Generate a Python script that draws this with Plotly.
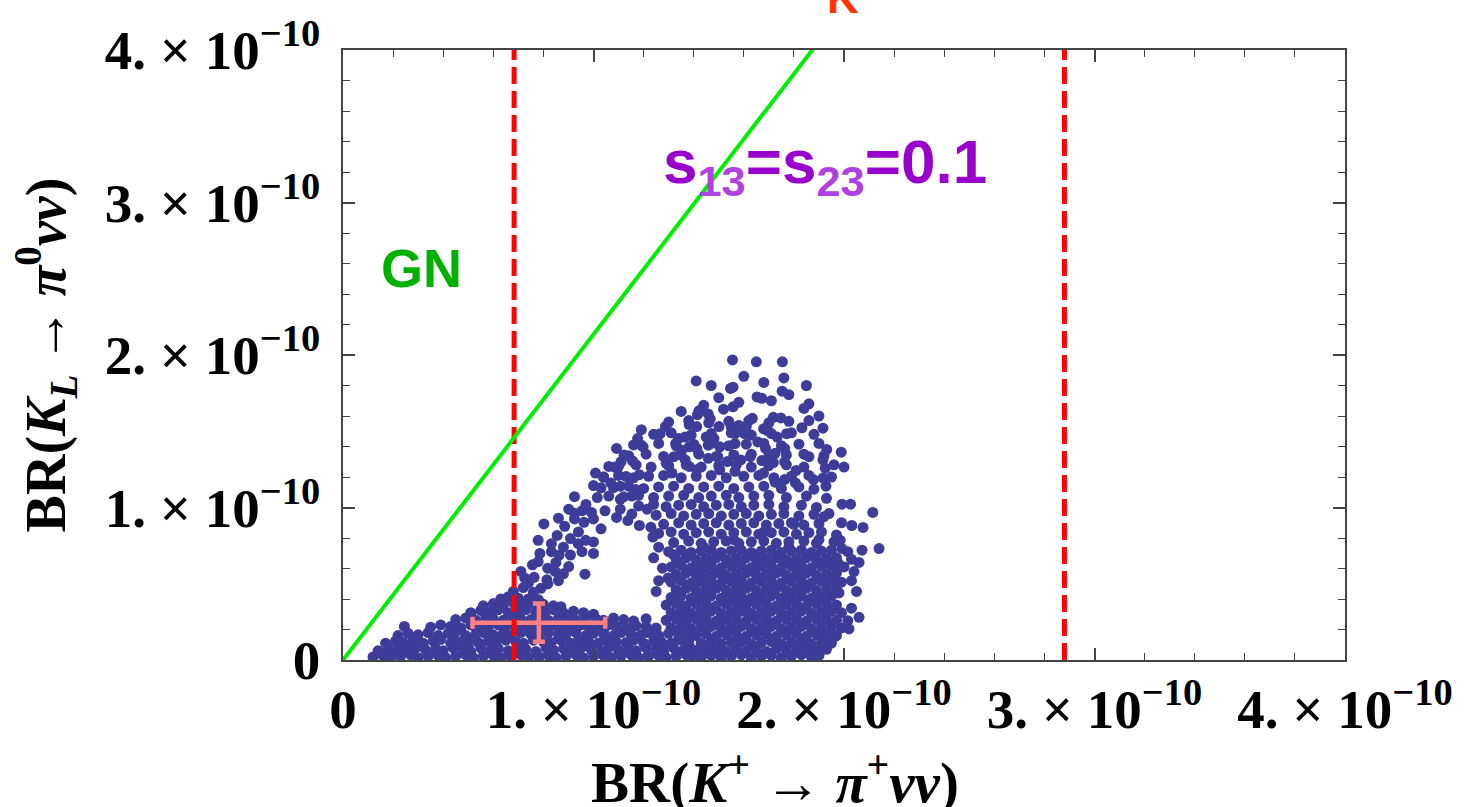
import plotly.graph_objects as go

S = 1e-12  # all values below are in units of 1e-12

# ---- scatter points (BR(K+ -> pi+ nu nu), BR(KL -> pi0 nu nu)) ----
band_pts = [
    (12,2),(16,3),(19,1.5),(23,2.5),(27,3.5),(30,1.5),(34,2.5),(38,3),(41,1.5),(45,2.5),(49,3.5),(52,1.5),
    (56,2.5),(60,3),(63,1.5),(67,2.5),(71,3.5),(74,1.5),(78,2.5),(82,3),(85,1.5),(89,2.5),(93,3.5),(96,1.5),
    (100,2.5),(104,3),(107,1.5),(111,2.5),(115,3.5),(118,1.5),(122,2.5),(126,3),(129,1.5),(133,2.5),(137,3.5),(140,1.5),
    (14,6),(18,8),(22,7),(25,5.5),(29,8),(33,6.5),(37,7.5),(40,6),(44,8),(48,7),(51,5.5),(55,8),(59,6.5),(62,7.5),
    (66,6),(70,8),(73,7),(77,5.5),(81,8),(84,6.5),(88,7.5),(92,6),(95,8),(99,7),(103,5.5),(106,8),(110,6.5),
    (114,7.5),(117,6),(121,8),(125,7),(128,5.5),(132,8),(136,6.5),(139,7.5),
    (17,11),(21,12.5),(24,11.5),(28,13),(32,11),(36,12.5),(39,13.5),(43,11),(47,12),(50,13),(54,11.5),(58,12.5),
    (61,11),(65,13),(69,12),(72,11),(76,13),(80,12),(83,11.5),(87,13),(91,11),(94,12.5),(98,12),(102,11),
    (105,13),(109,12),(113,11.5),(116,13),(120,11),(124,12.5),(127,12),(131,11),(135,13),(138,12),
    (22,16),(26,17.5),(30,16.5),(34,18),(38,16),(42,17.5),(45,18.5),(49,16),(53,17),(56,18),(60,16.5),(64,17.5),
    (67,16),(71,18),(75,17),(78,16),(82,18),(86,17),(89,16.5),(93,18),(97,16),(100,17.5),(104,17),(108,16),
    (111,18),(115,17),(119,16.5),(122,18),(126,16),(130,17.5),(134,17),(138,16),
    (24.5,22),(35,21.5),(39,23),(43,22),(47,21),(51,23),(54,22),(58,21.5),(62,23),(65,22),(69,21),(73,23),
    (76,22),(80,21.5),(84,23),(87,22),(91,21),(95,23),(98,22),(102,21.5),(106,23),(109,22),(113,21),(117,22.5),
    (121,22),(125,21),
    (45,26.5),(49,27.5),(53,26),(57,28),(60,27),(64,26),(68,28),(71,27),(75,26.5),(79,28),(82,26),(86,27.5),
    (90,27),(93,26),(97,28),(101,27),(104,26),(108,27.5),(112,26.5),(116,25.5),(121,27),
    (51,31),(55,32.5),(59,31.5),(62,33),(66,31),(70,32.5),(73,33),(77,31.5),(81,32),(84,33),(88,31),(92,32),
    (96,31),(100,30),
    (56,35.5),(60,37),(64,36),(68,37.5),(72,36),(76,37),(80,36.5),(84,35.5),(87,35),
    (63,40),(66,41.5),(70,40.5),(74,40),(78,39.5),
    (20,5),(32,9),(44,14),(56,19),(68,24),(80,29),(92,24),(104,19),(116,14),(128,9),
    (26,9),(38,4),(50,9),(62,14),(74,19),(86,14),(98,9),(110,4),(122,19),(134,14),
]

arm_pts = [
    (71,58.1),(72.5,53.8),(76.3,54.2),(81.4,52.7),(81.7,49.9),(75.6,62.4),(77.9,64.5),(81.7,60.2),(84.7,58.1),
    (90.1,61.3),(96.6,56.3),(68,45),(72,47.5),(76,44.5),(79,47),(74,50.5),(86,52),(88,56.5),
    (78.6,69.9),(83.2,71),(86.3,68.8),(90.8,68.8),(95.4,71),(100,69.9),
    (77.9,78.5),(83.2,76.3),(85.5,81.7),(90.8,79.6),(93.9,76.3),(96.9,78.5),(100,77.4),
    (80.2,89.2),(88.5,87.7),(92.4,92.5),(96.2,90.3),(100,92.5),(103,86),(109.2,93.5),(113.7,91.4),(118.3,88.2),(122.9,87.1),
    (90.1,98.9),(92.4,96.3),(95.4,97.8),(99.2,96.8),(104.6,97.8),(110.7,98.9),(115.3,95.7),(121.4,98.9),
    (92.4,107.1),(101.5,106.5),(106.1,107.5),(110.7,105.4),(115.3,107.5),
    (100,114.4),(103,112.9),(106.9,116.1),(110.7,114),(116.8,111.8),
    (100.8,122.6),(113,120.4),(118.3,121.5),
    (106.1,126.9),(108.4,126.5),(115.6,130.5),
    (109.2,138.7),(112.2,134.4),(119.8,139.8),
    (117.6,145.2),(119.1,151),(126.6,148.4),(128.7,153.1),
    (123.7,80.6),(127.5,60.2),(129.8,53.8),(125,45),(126,52),(124,67),(126,74),
    (85,64),(88,74),(94,84),(86,93),(97,102),(104,120),(111,130),(116,141),
]

arch_read_pts = [
    (154.7,178.1),(155.7,178.9),(165.3,172.5),(167.2,171.6),(175.3,176.3),(142.1,163.4),(141.5,160.9),
    (151.9,164.5),(155.7,166),(145.8,161.3),(146.6,158.1),(163.4,158.5),(171.8,159.1),(174.8,158.7),
    (138.2,154.4),(141.2,153.1),(150.1,153.1),(155,152.7),(158,153.8),(161,153.1),(167.9,151.6),(169.5,150.5),
    (183.2,152.3),(191.6,152),
    (133.9,145.2),(136.6,146.2),(145,146.2),(148.1,145.2),(156.5,148.4),(160.3,148.4),(173.3,146.2),(177.1,148.4),
    (132.8,141.9),(135.1,137.6),(138.2,139.8),(141.2,138.7),(145.8,140.9),(150.4,139.8),(156.5,141.9),(165.6,143),
    (168.7,138.7),(172.5,135.5),(176.3,138.7),(186,133.3),(193.1,138.1),(198.9,136.3),(191.6,131.2),
    (129,129),(132.1,133.3),(136.6,131.2),(145.8,132.3),(149.6,133.3),(153.4,130.1),(158.8,131.2),(162.6,133.3),
    (167.2,130.8),(171.8,129.5),(176.3,129.9),(180.9,124.3),(192.5,125.8),(200,126.5),
    (131.3,122.6),(138.2,126.9),(141.2,124.7),(150.4,124.7),(156.5,123.7),(167.9,122.6),(172.5,116.6),
    (176.3,118.3),(180.6,116.1),(187.8,118.3),(191.6,119.4),(192.8,114),
    (199.2,102.2),(202.6,102.2),(211.5,96.8),(203.1,88.2),(207.6,86.9),(198.5,78.5),(199.2,73.1),
    (201.5,71),(207.2,72),(214,73.1),(197.7,63.4),
    (141,183),(147,180),(155.5,196.8),(165,195.5),(175.4,195.5),(160,186),(168,182),(176,185),(185,180),
    (186,168),(190,160),(150,172),(158,169),(171,170),(178,174),(184,165),(135,163),(144,167),
]

arch_rows = [
    (131,61),(135,62),(139,60.5),(143,61.5),(147,62),(151,60.5),(155,61.5),(159,62),(163,60.5),(167,61.5),
    (171,62),(175,60.5),(179,61.5),(183,62),(187,60.5),(191,61.5),(195,62),(200,61),
    (133,66),(137,67),(141,65.5),(145,66.5),(149,67),(153,65.5),(157,66.5),(161,67),(165,65.5),(169,66.5),
    (173,67),(177,65.5),(181,66.5),(185,67),(189,65.5),(193,66.5),(197,67),(203,66),
    (130,71),(135,72),(139,70.5),(143,71.5),(147,72),(151,70.5),(155,71.5),(159,72),(163,70.5),(167,71.5),
    (171,72),(175,70.5),(179,71.5),(183,72),(187,70.5),(191,71.5),(195,72),
    (132,77),(138,78),(143,76.5),(148,77.5),(153,78),(158,76.5),(163,77.5),(168,78),(173,76.5),(178,77.5),
    (184,78),(189,76.5),(196,77.5),
    (126,83),(131,84),(136,82.5),(141,83.5),(146,84),(151,82.5),(156,83.5),(161,84),(166,82.5),(171,83.5),
    (176,84),(181,82.5),(186,83.5),(191,84),(197,82),
    (128,89),(134,90),(139,88.5),(144,89.5),(149,90),(154,88.5),(159,89.5),(164,90),(169,88.5),(174,89.5),
    (179,90),(184,88.5),(190,89.5),(199,90),
    (125,95),(131,96),(136,94.5),(141,95.5),(146,96),(151,94.5),(156,95.5),(161,96),(166,94.5),(171,95.5),
    (176,96),(182,94.5),(188,95.5),(194,96),
    (118,101),(124,102),(129,100.5),(134,101.5),(139,102),(144,100.5),(149,101.5),(154,102),(159,100.5),
    (164,101.5),(170,102),(176,100.5),(183,101.5),(189,100),
    (112,107),(118,108),(124,106.5),(130,107.5),(136,108),(142,106.5),(147,107.5),(153,108),(158,106.5),
    (164,107.5),(170,108),(177,106.5),(185,107.5),(193,106),
    (108,113),(114,114),(120,112.5),(126,113.5),(132,114),(138,112.5),(144,113.5),(150,114),(156,112.5),
    (162,113.5),(168,114),(175,112.5),(182,113.5),(188,112),
    (104,120),(110,121),(116,119.5),(122,120.5),(128,121),(135,119.5),(141,120.5),(147,121),(153,119.5),
    (160,120.5),(166,121),(172,119.5),(179,120.5),(186,121),(195,120),
    (110,127),(117,128),(123,126.5),(130,127.5),(137,128),(143,126.5),(150,127.5),(157,128),(163,126.5),
    (170,127.5),(177,128),(184,126.5),(196,128),
    (114,134),(121,135),(128,133.5),(135,134.5),(142,135),(149,133.5),(156,134.5),(163,135),(170,133.5),
    (177,134.5),(184,135),(192,134),
    (119,141),(126,142),(133,140.5),(140,141.5),(147,142),(154,140.5),(161,141.5),(168,142),(175,140.5),
    (182,141.5),(190,142),
    (124,148),(131,149),(139,147.5),(147,148.5),(155,149),(163,147.5),(171,148.5),(179,149),(188,148),
    (130,156),(138,157),(146,155.5),(154,156.5),(162,157),(170,155.5),(178,156.5),(186,157),
]

core_pts = [
    (143,2),(147,3),(151,1.5),(155,2.5),(159,3.5),(163,1.5),(167,2.5),(171,3),(175,1.5),(179,2.5),(183,3.5),(187,2),(190,3),
    (141,6),(145,7.5),(149,6.5),(153,5.5),(157,7.5),(161,6),(165,7),(169,5.5),(173,7.5),(177,6.5),(181,6),(185,7.5),(189,6),(193,7),
    (143,11),(147,12),(151,10.5),(155,11.5),(159,12),(163,10.5),(167,11.5),(171,12),(175,10.5),(179,11.5),(183,12),(187,10.5),(191,11.5),(195,11),
    (141,16),(145,17),(149,15.5),(153,16.5),(157,17),(161,15.5),(165,16.5),(169,17),(173,15.5),(177,16.5),(181,17),(185,15.5),(189,16.5),(193,17),(197,16),
    (131,21),(135,22),(139,20.5),(143,21.5),(147,22),(151,20.5),(155,21.5),(159,22),(163,20.5),(167,21.5),(171,22),(175,20.5),(179,21.5),(183,22),(187,20.5),(191,21.5),(195,22),(199,21),
    (129,26),(133,27),(137,25.5),(141,26.5),(145,27),(149,25.5),(153,26.5),(157,27),(161,25.5),(165,26.5),(169,27),(173,25.5),(177,26.5),(181,27),(185,25.5),(189,26.5),(193,27),(197,26),
    (131,31),(135,32),(139,30.5),(143,31.5),(147,32),(151,30.5),(155,31.5),(159,32),(163,30.5),(167,31.5),(171,32),(175,30.5),(179,31.5),(183,32),(187,30.5),(191,31.5),(195,32),(199,31),
    (129,36),(133,37),(137,35.5),(141,36.5),(145,37),(149,35.5),(153,36.5),(157,37),(161,35.5),(165,36.5),(169,37),(173,35.5),(177,36.5),(181,37),(185,35.5),(189,36.5),(193,37),(197,36),
    (131,41),(135,42),(139,40.5),(143,41.5),(147,42),(151,40.5),(155,41.5),(159,42),(163,40.5),(167,41.5),(171,42),(175,40.5),(179,41.5),(183,42),(187,40.5),(191,41.5),(195,42),
    (133,46),(137,47),(141,45.5),(145,46.5),(149,47),(153,45.5),(157,46.5),(161,47),(165,45.5),(169,46.5),(173,47),(177,45.5),(181,46.5),(185,47),(189,45.5),(193,46.5),(197,47),
    (131,51),(135,52),(139,50.5),(143,51.5),(147,52),(151,50.5),(155,51.5),(159,52),(163,50.5),(167,51.5),(171,52),(175,50.5),(179,51.5),(183,52),(187,50.5),(191,51.5),(195,52),(199,51),
    (133,56),(137,57),(141,55.5),(145,56.5),(149,57),(153,55.5),(157,56.5),(161,57),(165,55.5),(169,56.5),(173,57),(177,55.5),(181,56.5),(185,57),(189,55.5),(193,56.5),(197,57),
    (134,4.5),(146,9),(158,14),(170,4.5),(182,9),(194,14),(138,19),(150,24),(162,29),(174,34),(186,39),(198,44),
    (140,49),(152,54),(164,59),(176,64),(188,69),(134,39),(146,44),(158,49),(170,54),(182,59),(194,64),
    (136,29),(148,34),(160,39),(172,44),(184,49),(196,54),(142,59),(154,64),(166,69),(178,74),(190,79),
    (132,69),(144,74),(156,79),(168,84),(180,89),(192,94),
]

edge_pts = [
    (206,64),(204,58),(203,34),(206,28),(201.5,25.8),(202,20.4),(196.5,15.5),(192,17),(191.6,8.6),(188.5,4.3),
    (205,45),(203,52),
]

# ---- error cross (central value and errors) ----
cross_x = [78.2]
cross_x_err = [26.5]
cross_y = [24.5]
cross_y_err = [12.6]

# ---- experimental range on BR(K+) (vertical dashed lines) ----
bound_x = [68.3, 288.0]

# ---- Grossman-Nir bound line ----
gn_x = [0, 200]
gn_y = [0, 427]

# ---- ticks ----
tick_vals = [0, 100, 200, 300, 400]
tick_text = ["0", "1. × 10<sup>−10</sup>", "2. × 10<sup>−10</sup>",
             "3. × 10<sup>−10</sup>", "4. × 10<sup>−10</sup>"]

all_pts = band_pts + arm_pts + arch_read_pts + arch_rows + core_pts + edge_pts
sx = [p[0] * S for p in all_pts]
sy = [p[1] * S for p in all_pts]

SERIF = "Liberation Serif"
FRAME = "#444444"
PINK = "#ff8080"

fig = go.Figure()
fig.add_trace(go.Scatter(
    x=sx, y=sy, mode="markers",
    marker=dict(size=11, color="#3d3d99", line=dict(width=0)),
    hoverinfo="skip", showlegend=False))
fig.add_trace(go.Scatter(
    x=[v * S for v in cross_x], y=[v * S for v in cross_y], mode="markers",
    marker=dict(size=1, color=PINK),
    error_x=dict(type="data", array=[v * S for v in cross_x_err], color=PINK, thickness=4.5, width=6),
    error_y=dict(type="data", array=[v * S for v in cross_y_err], color=PINK, thickness=4.5, width=6),
    showlegend=False, hoverinfo="skip"))
for bx in bound_x:
    fig.add_trace(go.Scatter(
        x=[bx * S, bx * S], y=[0, 400 * S], mode="lines",
        line=dict(color="#ff0000", width=5, dash="17px,7px"),
        showlegend=False, hoverinfo="skip"))
fig.add_trace(go.Scatter(
    x=[v * S for v in gn_x], y=[v * S for v in gn_y], mode="lines",
    line=dict(color="#00ee00", width=4), showlegend=False, hoverinfo="skip"))

axis_common = dict(
    tickmode="array", tickvals=[v * S for v in tick_vals], ticktext=tick_text,
    ticks="inside", ticklen=12, tickwidth=1.5, tickcolor=FRAME,
    showline=True, linecolor=FRAME, linewidth=1.5, mirror="ticks",
    showgrid=False, zeroline=False,
    minor=dict(tickmode="linear", tick0=0, dtick=20 * S, ticks="inside", ticklen=7,
               tickcolor=FRAME, tickwidth=1.2, showgrid=False),
    tickfont=dict(family=SERIF, size=55, color="black", weight="bold"),
    range=[0, 400 * S],
)

fig.update_layout(
    width=1468, height=807, autosize=False,
    margin=dict(l=343, r=123, t=40, b=147),
    paper_bgcolor="white", plot_bgcolor="white",
    xaxis=dict(**axis_common),
    yaxis=dict(**axis_common, ticklabelstandoff=10),
    annotations=[
        dict(text="BR(<i>K</i><sup>+</sup> → <i>π</i><sup>+</sup><i>νν</i>)", xref="paper", yref="paper",
             x=(775 - 343) / 1002, y=-0.1935, xanchor="center", yanchor="middle", showarrow=False,
             font=dict(family=SERIF, size=57, color="black", weight="bold")),
        dict(text="BR(<i>K</i><sub><i>L</i></sub>\u2009→\u2009<i>π</i><sup>0</sup><i>νν</i>)", xref="paper", yref="paper",
             x=-0.297, y=0.5, xanchor="center", yanchor="middle", showarrow=False, textangle=-90,
             font=dict(family=SERIF, size=56, color="black", weight="bold")),
        dict(text="GN", xref="paper", yref="paper", x=0.0788, y=0.642,
             xanchor="center", yanchor="middle", showarrow=False,
             font=dict(family="Liberation Sans", size=54, color="#00b000", weight="bold")),
        dict(text="s<sub><span style='color:#b040e0'>13</span></sub>=s<sub><span style='color:#b040e0'>23</span></sub>=0.1",
             xref="paper", yref="paper", x=0.481, y=0.8097,
             xanchor="center", yanchor="middle", showarrow=False,
             font=dict(family="Liberation Sans", size=62, color="#9900cc", weight="bold")),
        dict(text="K", xref="paper", yref="paper", x=(843 - 343) / 1002, y=(660 - 14) / 620,
             xanchor="center", yanchor="bottom", showarrow=False,
             font=dict(family="Liberation Sans", size=44, color="#ff3300", weight="bold")),
    ],
)

fig.write_html("out.html")
